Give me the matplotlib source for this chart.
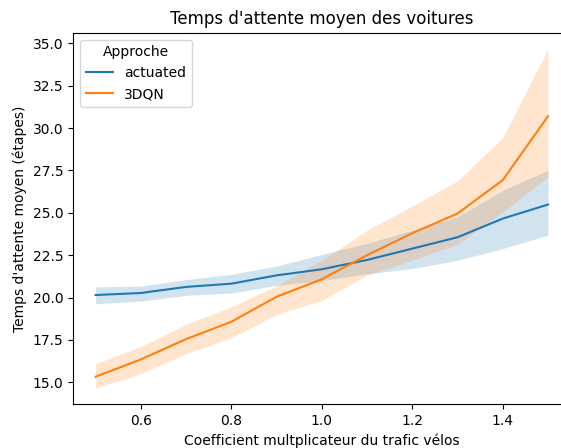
import numpy as np
from matplotlib import pyplot

#----------------------
# données
#----------------------
coef = [0.5, 0.6, 0.7, 0.8, 0.9, 1.0, 1.1, 1.2, 1.3, 1.4, 1.5]

actuated_moy = [20.15, 20.27, 20.63, 20.82, 21.31, 21.67, 22.22, 22.89, 23.56, 24.66, 25.49]
actuated_bas = [19.64, 19.79, 20.13, 20.27, 20.72, 21.00, 21.40, 21.71, 22.20, 22.89, 23.68]
actuated_haut = [20.63, 20.68, 21.06, 21.37, 21.86, 22.55, 23.20, 23.97, 24.76, 26.33, 27.52]

dqn_moy = [15.33, 16.35, 17.55, 18.57, 20.05, 21.08, 22.50, 23.80, 24.96, 26.93, 30.70]
dqn_bas = [14.66, 15.51, 16.69, 17.63, 19.00, 19.84, 21.31, 22.20, 23.15, 25.05, 27.12]
dqn_haut = [16.10, 17.12, 18.42, 19.45, 20.70, 22.20, 23.97, 25.40, 26.88, 29.44, 34.66]

approches = ["actuated", "3DQN"]
couleurs = ["#1f77b4", "#ff7f0e"]

#-------------------
# graphique
#-------------------
fig = pyplot.figure(figsize=(5.61, 4.48), dpi=100)
ax = fig.add_axes([73 / 561, 1 - 404 / 448, (570.6 - 73) / 561, (404 - 32.7) / 448])

series = [
    (actuated_moy, actuated_bas, actuated_haut),
    (dqn_moy, dqn_bas, dqn_haut),
]
for nom, couleur, (moy, bas, haut) in zip(approches, couleurs, series):
    ax.fill_between(coef, bas, haut, color=couleur, alpha=0.2, linewidth=0)
    ax.plot(coef, moy, color=couleur, linewidth=1.5, label=nom)

ax.set_xlim(0.45, 1.55)
ax.set_ylim(13.72, 35.63)
ax.set_yticks(np.arange(15, 35.1, 2.5))

ax.set_title("Temps d'attente moyen des voitures", fontsize=12)
ax.set_xlabel("Coefficient multplicateur du trafic vélos")
ax.set_ylabel("Temps d'attente moyen (étapes)")
ax.legend(title="Approche", loc="upper left")

fig.savefig("out.png", dpi=100)
